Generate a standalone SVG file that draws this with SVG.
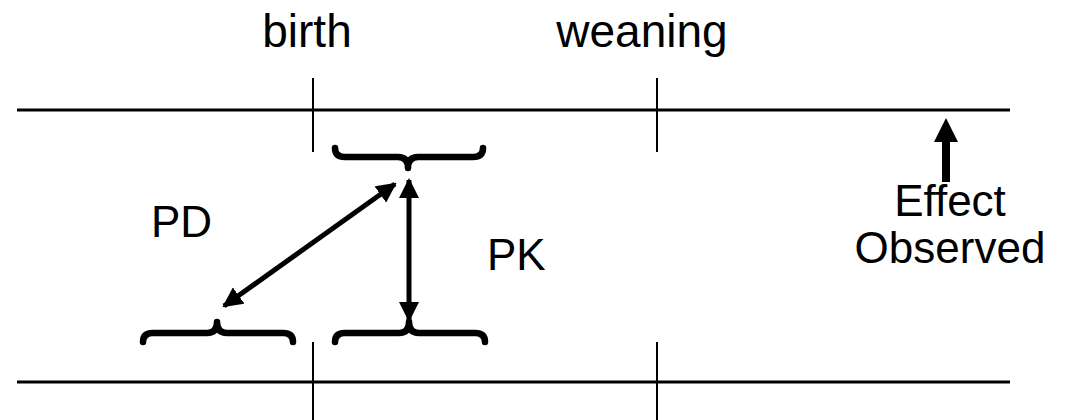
<svg xmlns="http://www.w3.org/2000/svg" width="1070" height="420" viewBox="0 0 1070 420">
  <style>
    .axis { stroke: #000; stroke-width: 3; fill: none; }
    .tick { stroke: #000; stroke-width: 2; fill: none; }
    .brace { stroke: #000; stroke-width: 6.5; fill: none; stroke-linecap: round; stroke-linejoin: round; }
    .link { stroke: #000; stroke-width: 5; fill: none; }
    .lbl { font-family: "Liberation Sans", Arial, sans-serif; font-size: 44px; fill: #000; }
    .big { font-size: 46px; }
  </style>
  <defs>
    <marker id="head" viewBox="0 0 10 10" refX="9" refY="5" markerWidth="4" markerHeight="4" orient="auto-start-reverse" markerUnits="strokeWidth">
      <path d="M0,0 L10,5 L0,10 Z" fill="#000"/>
    </marker>
  </defs>

  <!-- timeline rails and time markers -->
  <g id="timeline">
    <line class="axis" x1="17" y1="110" x2="1010" y2="110"/>
    <line class="axis" x1="17" y1="382" x2="1010" y2="382"/>
    <line class="tick" x1="313" y1="78" x2="313" y2="152"/>
    <line class="tick" x1="657" y1="78" x2="657" y2="152"/>
    <line class="tick" x1="313" y1="342" x2="313" y2="420"/>
    <line class="tick" x1="657" y1="342" x2="657" y2="420"/>
  </g>

  <g id="birth-label"><text class="lbl big" x="307" y="47" text-anchor="middle">birth</text></g>
  <g id="weaning-label"><text class="lbl big" x="642" y="47" text-anchor="middle">weaning</text></g>

  <!-- brace over the postnatal window -->
  <g id="brace-postnatal">
    <path class="brace" d="M335,148 Q335,157 345,157 L398,157 Q408,157 408,168 Q408,157 418,157 L473,157 Q483,157 483,148"/>
  </g>
  <!-- prenatal brace -->
  <g id="brace-prenatal">
    <path class="brace" d="M143,342 Q143,333 153,333 L207,333 Q217,333 217,322 Q217,333 227,333 L283,333 Q293,333 293,342"/>
  </g>
  <!-- postnatal exposure brace -->
  <g id="brace-exposure">
    <path class="brace" d="M335,342 Q335,333 345,333 L399,333 Q409,333 409,322 Q409,333 419,333 L475,333 Q485,333 485,342"/>
  </g>

  <g id="connectors">
    <line class="link" x1="224" y1="306" x2="395" y2="184" marker-start="url(#head)" marker-end="url(#head)"/>
    <line class="link" x1="409" y1="180" x2="409" y2="320" marker-start="url(#head)" marker-end="url(#head)"/>
  </g>

  <g id="pd-label"><text class="lbl" x="151" y="237">PD</text></g>
  <g id="pk-label"><text class="lbl" x="487" y="270">PK</text></g>

  <g id="effect">
    <rect x="942" y="140" width="8" height="42" fill="#000"/>
    <polygon points="946,118 934,142 958,142" fill="#000"/>
    <text class="lbl" x="950" y="216" text-anchor="middle">Effect</text>
    <text class="lbl" x="950" y="263" text-anchor="middle">Observed</text>
  </g>
</svg>
